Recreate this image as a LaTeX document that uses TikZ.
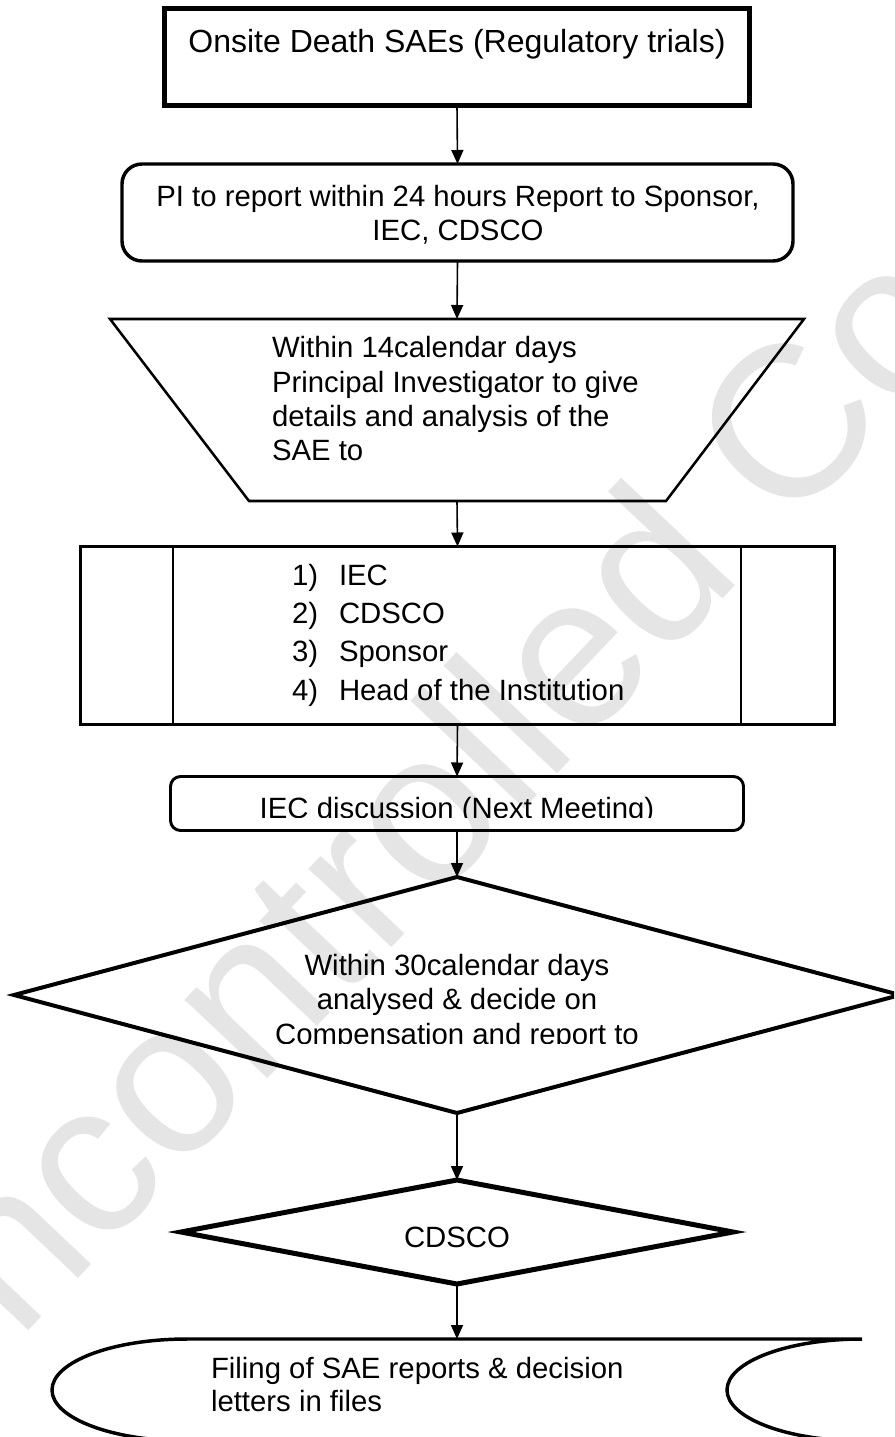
\documentclass[tikz,border=0pt]{standalone}
\usepackage{fontspec}
\setmainfont{Liberation Sans}
\usetikzlibrary{arrows.meta,shapes.geometric,calc}

\begin{document}
\begin{tikzpicture}[x=0.75pt,y=-0.75pt,
  shapebox/.style={draw, inner sep=0pt, outer sep=0pt},
  frame/.style={inner sep=0pt, outer sep=0pt},
  txt/.style={inner sep=0pt, outer sep=0pt, font=\fontsize{22}{26}\selectfont},
  arr/.style={line width=1.2pt, -{Triangle[length=10.5pt, width=9pt]}},
  watermark/.style={inner sep=0pt, text=black!10, font=\fontsize{162}{162}\selectfont}]

\useasboundingbox (0,0) rectangle (894,1437);
\clip (0,0) rectangle (894,1437);

% faint watermark behind the chart
\node[watermark, rotate=46.5] (wm) at (482,772) {Uncontrolled Copy};

% 1. start box
\node[shapebox, line width=3.75pt, minimum width=438.75pt, minimum height=72.75pt] (start) at (457,57) {};
\node[txt, font=\fontsize{24}{28}\selectfont, anchor=base] (startT) at (457,53) {Onsite Death SAEs (Regulatory trials)};

% 2. first report
\node[shapebox, line width=2.6pt, rounded corners=15pt, minimum width=503.25pt, minimum height=72.75pt] (report) at (457.5,212.5) {};
\node[txt, anchor=base] (reportA) at (458,207) {PI to report within 24 hours Report to Sponsor,};
\node[txt, anchor=base] (reportB) at (458,241) {IEC, CDSCO};

% 3. 14 day analysis (inverted trapezoid)
\node[frame, minimum width=520.5pt, minimum height=136.5pt] (trap) at (457,410) {};
\draw[line width=1.9pt, line join=miter]
  (trap.north west) -- (trap.north east) -- ($(trap.south east)+(-138,0)$)
  -- ($(trap.south west)+(139,0)$) -- cycle;
\node[txt, anchor=base west] (trapA) at (272,358) {Within 14calendar days};
\node[txt, anchor=base west] (trapB) at (272,392) {Principal Investigator to give};
\node[txt, anchor=base west] (trapC) at (272,426) {details and analysis of the};
\node[txt, anchor=base west] (trapD) at (272,460) {SAE to};

% 4. recipients (predefined process)
\node[shapebox, line width=2.2pt, minimum width=565.5pt, minimum height=133.5pt] (notify) at (457.5,635.5) {};
\draw[line width=2.2pt] ($(notify.north west)+(92.5,0)$) -- ($(notify.south west)+(92.5,0)$);
\draw[line width=2.2pt] ($(notify.north east)+(-93.5,0)$) -- ($(notify.south east)+(-93.5,0)$);
\node[txt, anchor=base west] (num1) at (292,585) {1)};
\node[txt, anchor=base west] (num2) at (292,623) {2)};
\node[txt, anchor=base west] (num3) at (292,661) {3)};
\node[txt, anchor=base west] (num4) at (292,700) {4)};
\node[txt, anchor=base west] (item1) at (339,585) {IEC};
\node[txt, anchor=base west] (item2) at (339,623) {CDSCO};
\node[txt, anchor=base west] (item3) at (339,661) {Sponsor};
\node[txt, anchor=base west] (item4) at (339,700) {Head of the Institution};

% 5. IEC meeting
\node[shapebox, line width=2.2pt, rounded corners=7.5pt, minimum width=429.75pt, minimum height=40.5pt] (meet) at (457,803.5) {};
\begin{scope}
  \clip (160,780) rectangle (750,817);
  \node[txt, anchor=base] (meetT) at (457,818) {IEC discussion (Next Meeting)};
\end{scope}

% 6. 30 day decision
\node[diamond, shapebox, line width=3pt, minimum width=664.5pt, minimum height=177pt] (decide) at (457,995) {};
\node[txt, anchor=base] (decideA) at (457,975) {Within 30calendar days};
\node[txt, anchor=base] (decideB) at (457,1009) {analysed \& decide on};
\begin{scope}
  \clip (200,1015) rectangle (720,1043);
  \node[txt, anchor=base] (decideC) at (457,1044) {Compensation and report to};
\end{scope}

% 7. regulator
\node[diamond, shapebox, line width=3.75pt, minimum width=414pt, minimum height=78pt] (cdsco) at (457,1232) {};
\node[txt, anchor=base] (cdscoT) at (457,1247) {CDSCO};

% 8. filing (stored data)
\node[frame, minimum width=607.5pt, minimum height=76.5pt] (store) at (457,1390) {};
\draw[line width=2.6pt]
  ($(store.north west)+(135,0)$) -- (store.north east)
  arc[start angle=270, end angle=90, x radius=135, y radius=51]
  -- ($(store.south west)+(135,0)$)
  arc[start angle=90, end angle=270, x radius=135, y radius=51] -- cycle;
\node[txt, anchor=base west] (storeA) at (211,1378) {Filing of SAE reports \& decision};
\node[txt, anchor=base west] (storeB) at (211,1411) {letters in files};

% connectors
\draw[arr] (start.south) -- (report.north);
\draw[arr] (report.south) -- (trap.north);
\draw[arr] (trap.south) -- (notify.north);
\draw[arr] (notify.south) -- (meet.north);
\draw[arr] (meet.south) -- (decide.north);
\draw[arr] (decide.south) -- (cdsco.north);
\draw[arr] (cdsco.south) -- (store.north);
\end{tikzpicture}
\end{document}
